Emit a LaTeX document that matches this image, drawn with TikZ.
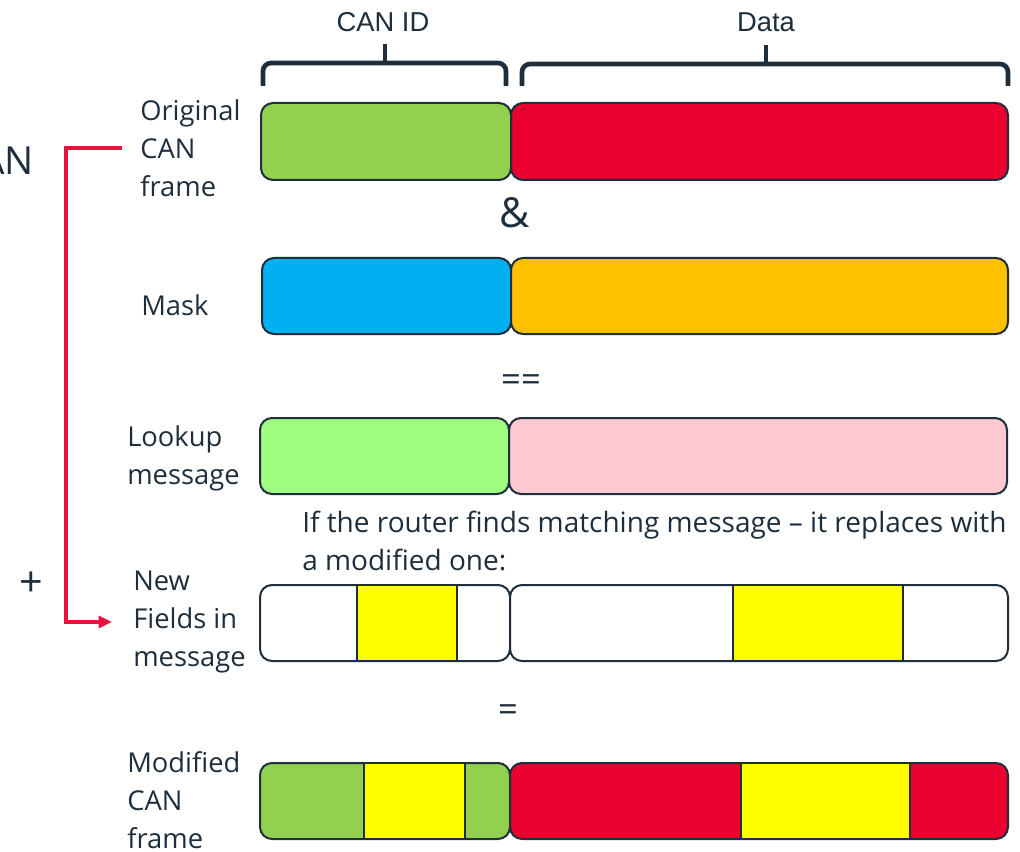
\documentclass[tikz,border=0pt]{standalone}
\usepackage{fontspec}
\setmainfont{Open Sans}
\newfontfamily\arialfont{Liberation Sans}
\usepackage{tikz}
\usepackage{xcolor}
\usetikzlibrary{arrows.meta, positioning}
\definecolor{ink_blue}{RGB}{30, 46, 60}
\definecolor{id_green}{RGB}{146, 208, 80}
\definecolor{data_red}{RGB}{234, 0, 46}
\definecolor{mask_blue}{RGB}{0, 176, 240}
\definecolor{mask_orange}{RGB}{255, 192, 0}
\definecolor{lookup_green}{RGB}{160, 255, 128}
\definecolor{lookup_pink}{RGB}{255, 199, 208}
\definecolor{field_yellow}{RGB}{255, 255, 0}
\definecolor{arrow_red}{RGB}{230, 20, 60}

\begin{document}
\begin{tikzpicture}[x=0.75pt, y=-0.75pt,
		frame/.style={line width=1.5pt, draw=ink_blue, rounded corners=9pt},
		field/.style={line width=1.5pt, draw=ink_blue, fill=field_yellow},
		lbl/.style={anchor=west, align=left, inner sep=0pt, text=ink_blue, font=\fontsize{20.5}{28.5}\selectfont},
		op/.style={text=ink_blue, inner sep=0pt, font=\fontsize{26}{30}\selectfont},
		brace/.style={line width=3.5pt, draw=ink_blue, rounded corners=6pt},
		head/.style={text=ink_blue, inner sep=0pt, font=\arialfont\fontsize{20.5}{24}\selectfont},
		connector/.style={draw=arrow_red, line width=2.3pt, -{Triangle[length=10pt, width=9pt]}}]
				\useasboundingbox (0,0) rectangle (1020,852);
				
				% field headers
				\node[head] (hdr_id) at (383,22) {CAN ID};
				\node[head] (hdr_data) at (766,22) {Data};
				\draw[brace] (263,86) |- (385,63);
				\draw[brace] (385,63) -| (506,86);
				\draw[brace, rounded corners=0pt] (385,64) -- (385,44);
				\draw[brace] (522,86) |- (766,64);
				\draw[brace] (766,64) -| (1008,86);
				\draw[brace, rounded corners=0pt] (766,65) -- (766,45);
				
				% row labels
				\node[anchor=east, text=ink_blue, inner sep=0pt, font=\fontsize{29}{34}\selectfont] (lbl_can) at (34,161) {CAN};
				\node[lbl] (lbl_orig) at (140,148) {Original\\CAN\\frame};
				\node[lbl] (lbl_mask) at (141,305) {Mask};
				\node[lbl] (lbl_look) at (127,458) {Lookup\\message};
				\node[lbl, font=\fontsize{21}{28.5}\selectfont] (lbl_note) at (302,541) {If the router finds matching message -- it replaces with\\a modified one:};
				\node[lbl] (lbl_new) at (133,622) {New\\Fields in\\message};
				\node[lbl] (lbl_mod) at (127,800) {Modified\\CAN\\frame};
				\node[text=ink_blue, inner sep=0pt, font=\fontsize{31}{34}\selectfont] (lbl_plus) at (31,584) {+};
				
				% operators
				\node[op, font=\fontsize{31}{34}\selectfont] (op_and) at (515,213) {\&};
				\node[op] (op_eqeq) at (521,383) {==};
				\node[op] (op_eq) at (508,713) {=};
				
				% original frame
				\draw[frame, fill=id_green] (261,103) rectangle (511,180);
				\draw[frame, fill=data_red] (511,103) rectangle (1008,180);
				
				% mask
				\draw[frame, fill=mask_blue] (262,258) rectangle (511,334);
				\draw[frame, fill=mask_orange] (511,258) rectangle (1008,334);
				
				% lookup message
				\draw[frame, fill=lookup_green] (260,418) rectangle (509,494);
				\draw[frame, fill=lookup_pink] (509,418) rectangle (1007,494);
				
				% new fields
				\draw[frame, fill=white] (260,585) rectangle (510,661);
				\draw[frame, fill=white] (510,585) rectangle (1008,661);
				\draw[field] (357,585) rectangle (457,661);
				\draw[field] (733,585) rectangle (903,661);
				
				% modified frame
				\draw[frame, fill=id_green] (260,763) rectangle (510,839);
				\draw[frame, fill=data_red] (510,763) rectangle (1008,839);
				\draw[field] (364,763) rectangle (465,839);
				\draw[field] (741,763) rectangle (910,839);
				
				% red connector
				\coordinate (red_x) at (66,0);
				\draw[connector, shorten <=13.5pt, shorten >=15.75pt] (lbl_orig.west) -- (lbl_orig.west -| red_x) |- (lbl_new.west);
				
\end{tikzpicture}
\end{document}
